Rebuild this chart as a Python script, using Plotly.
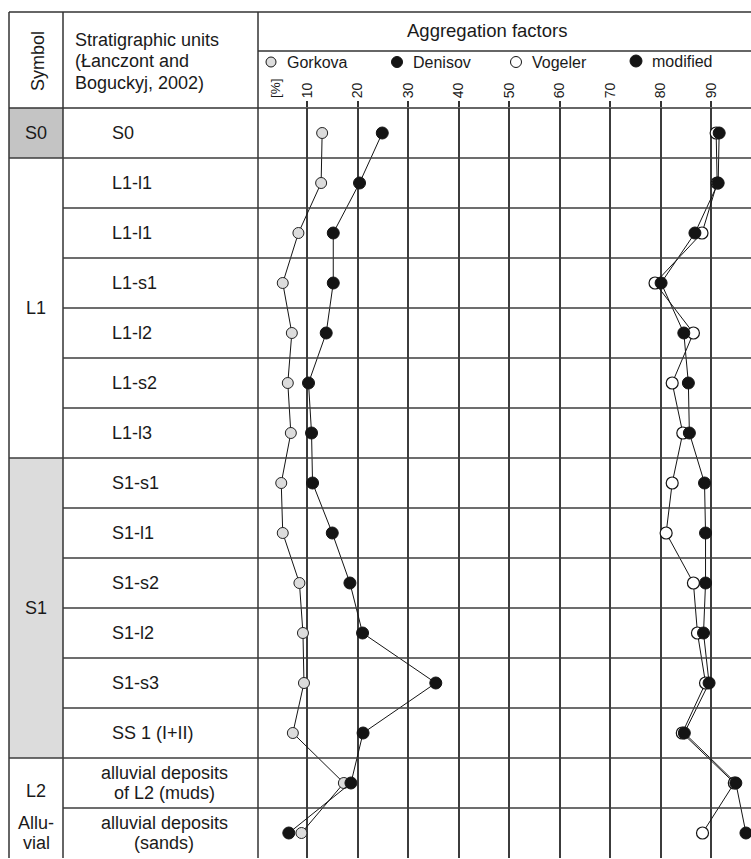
import plotly.graph_objects as go

# ---------------- data ----------------
units = ["S0", "L1-l1", "L1-l1", "L1-s1", "L1-l2", "L1-s2", "L1-l3",
         "S1-s1", "S1-l1", "S1-s2", "S1-l2", "S1-s3", "SS 1 (I+II)",
         "alluvial deposits<br>of L2 (muds)", "alluvial deposits<br>(sands)"]
gorkova = [13.0, 12.8, 8.3, 5.2, 7.0, 6.2, 6.8, 4.9, 5.2, 8.5, 9.2, 9.4, 7.2, 17.3, 8.9]
denisov = [24.9, 20.4, 15.2, 15.2, 13.8, 10.3, 10.9, 11.1, 15.0, 18.5, 21.0, 35.5, 21.1, 18.7, 6.4]
vogeler = [91.0, 91.2, 88.2, 78.9, 86.5, 82.3, 84.4, 82.3, 81.1, 86.5, 87.3, 88.9, 84.3, 94.6, 88.3]
modified = [91.6, 91.4, 86.8, 80.1, 84.6, 85.5, 85.7, 88.7, 88.9, 88.9, 88.5, 89.6, 84.7, 94.9, 96.9]
x_ticks = [10, 20, 30, 40, 50, 60, 70, 80, 90]
symbol_groups = [("S0", 0, 0), ("L1", 1, 6), ("S1", 7, 12)]

rows = list(range(len(units)))

W, H = 751, 859
L, R, T, B = 258, 751, 108, 858
FONT = "Liberation Sans, Arial, sans-serif"
LINE = "#333333"
GRID = "#3c3c3c"
BODY = 18
ROW_PX = (B - T) / len(units)


def px(x):
    return (x - L) / (R - L)


def py(y):
    return (B - y) / (B - T)


fig = go.Figure()

series = [
    ("Gorkova", gorkova, dict(symbol="circle", size=11, color="#dcdcdc", line=dict(color="#222", width=1))),
    ("Denisov", denisov, dict(symbol="circle", size=12, color="#141414", line=dict(color="#141414", width=1))),
    ("Vogeler", vogeler, dict(symbol="circle", size=12, color="white", line=dict(color="#141414", width=1.2))),
    ("modified", modified, dict(symbol="circle", size=12, color="#141414", line=dict(color="#141414", width=1))),
]
for name, vals, mk in series:
    fig.add_trace(go.Scatter(x=vals, y=rows, mode="lines+markers", name=name,
                             line=dict(color="#141414", width=1), marker=mk,
                             showlegend=False))

shapes = []


def hline(y0, x0, x1, yref="paper", w=1.5, c=LINE):
    shapes.append(dict(type="line", xref="paper", yref=yref, x0=x0, x1=x1, y0=y0, y1=y0,
                       line=dict(color=c, width=w)))


def vline(x, y0, y1, w=1.5, c=LINE):
    shapes.append(dict(type="line", xref="paper", yref="paper", x0=px(x), x1=px(x),
                       y0=py(y0), y1=py(y1), line=dict(color=c, width=w)))


# shaded symbol cells
shade = {"S0": "#c4c4c4", "S1": "#dcdcdc"}
for name, a, b in symbol_groups:
    if name in shade:
        shapes.append(dict(type="rect", xref="paper", yref="y", x0=px(9), x1=px(63),
                           y0=a - 0.5, y1=b + 0.5, fillcolor=shade[name], line=dict(width=0),
                           layer="below"))

# frame
vline(9, 12, B)
vline(63, 12, B)
vline(258, 12, B)
hline(py(12), px(9), 1)
hline(py(51), px(258), 1)
hline(py(108), px(9), 1)

# row boundaries
group_ends = {b for _, a, b in symbol_groups}
for k in rows[:-1]:
    x0 = px(9) if k in group_ends else px(63)
    hline(k + 0.5, x0, 1, yref="y", c=GRID)

annotations = []


def text(x, y, s, size=BODY, xanchor="center", yanchor="middle", angle=0, align="center",
         xref="paper", yref="paper"):
    annotations.append(dict(x=x, y=y, xref=xref, yref=yref, text=s, showarrow=False,
                            xanchor=xanchor, yanchor=yanchor, textangle=angle, align=align,
                            font=dict(family=FONT, size=size, color="#1a1a1a")))


def multiline_rows(x, center_row, s, spacing_px, xanchor="center"):
    parts = s.split("<br>")
    n = len(parts)
    for j, p in enumerate(parts):
        off = (j - (n - 1) / 2) * spacing_px / ROW_PX
        text(x, center_row + off, p, xanchor=xanchor, yref="y")


# header
text(px(38), py(61), "Symbol", angle=-90)
for j, line in enumerate(["Stratigraphic units", "(Łanczont and", "Boguckyj, 2002)"]):
    text(px(73), py(40 + 21.5 * j), line, xanchor="left")
text(px(487), py(31), "Aggregation factors", size=18.5)
text(px(275), py(88), "[%]", size=13.5, angle=-90)

# legend (header row)
leg = [("Gorkova", 271, "#dcdcdc", 10), ("Denisov", 397, "#141414", 11),
       ("Vogeler", 516, "white", 11), ("modified", 636, "#141414", 12)]
for name, cx, fill, d in leg:
    cy = 61 if name == "modified" else 62
    shapes.append(dict(type="circle", xref="paper", yref="paper",
                       x0=px(cx - d / 2), x1=px(cx + d / 2), y0=py(cy + d / 2), y1=py(cy - d / 2),
                       fillcolor=fill, line=dict(color="#141414", width=1)))
    text(px(cx + 14), py(cy), name, size=16, xanchor="left")

# symbol column
for name, a, b in symbol_groups:
    text(px(36), (a + b) / 2, name, yref="y")
text(px(36), 13.15, "L2", yref="y")
multiline_rows(px(36), 14.0, "Allu-<br>vial", 19.5)

# stratigraphic units column
for i, u in enumerate(units):
    if "<br>" in u:
        multiline_rows(px(164), i, u, 19.5)
    else:
        text(px(110), i, u, xanchor="left", yref="y")

fig.update_layout(
    width=W, height=H,
    margin=dict(l=L, r=W - R, t=T, b=H - B, pad=0),
    paper_bgcolor="white", plot_bgcolor="white",
    shapes=shapes, annotations=annotations,
    font=dict(family=FONT, color="#1a1a1a"),
    xaxis=dict(side="top", range=[0.3, 97.9], tickvals=x_ticks, ticktext=[str(v) for v in x_ticks],
               ticks="outside", ticklen=6, tickwidth=1.5, tickcolor=LINE, tickangle=-90,
               tickfont=dict(size=14, family=FONT, color="#1a1a1a"),
               showgrid=True, gridcolor=GRID, gridwidth=1.5, zeroline=False, showline=False),
    yaxis=dict(range=[len(units) - 0.5, -0.5], showticklabels=False, showgrid=False,
               zeroline=False, showline=False),
)

fig.write_html("out.html", config={"displayModeBar": False},
               post_script="document.body.style.margin='0';")
